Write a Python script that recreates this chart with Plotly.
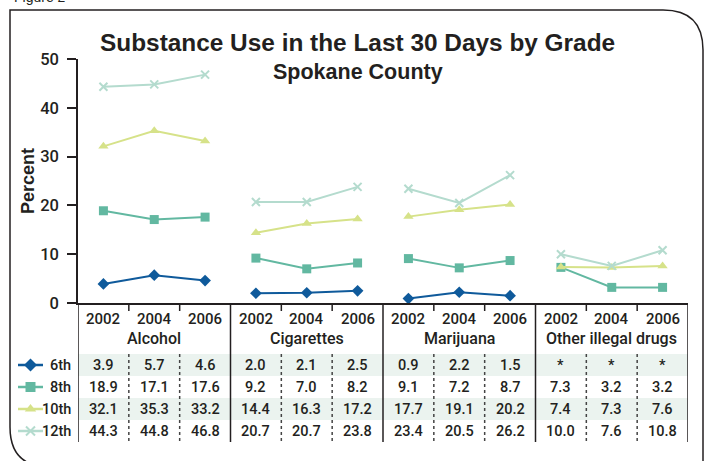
import plotly.graph_objects as go

W, H = 709, 461

SUBSTANCES = ["Alcohol", "Cigarettes", "Marijuana", "Other illegal drugs"]
YEARS = ["2002", "2004", "2006"]
GRADES = ["6th", "8th", "10th", "12th"]
Y_TICKS = [0, 10, 20, 30, 40, 50]

# Percent reporting use in the last 30 days.
# Order: Alcohol, Cigarettes, Marijuana, Other illegal drugs; each 2002, 2004, 2006.
grade6 = [3.9, 5.7, 4.6, 2.0, 2.1, 2.5, 0.9, 2.2, 1.5, None, None, None]
grade8 = [18.9, 17.1, 17.6, 9.2, 7.0, 8.2, 9.1, 7.2, 8.7, 7.3, 3.2, 3.2]
grade10 = [32.1, 35.3, 33.2, 14.4, 16.3, 17.2, 17.7, 19.1, 20.2, 7.4, 7.3, 7.6]
grade12 = [44.3, 44.8, 46.8, 20.7, 20.7, 23.8, 23.4, 20.5, 26.2, 10.0, 7.6, 10.8]
SERIES = [grade6, grade8, grade10, grade12]

# ---- styling -------------------------------------------------------------
COLORS = ["#0f5a9b", "#62b8a1", "#d6e289", "#b4dbce"]
SYMBOLS = ["diamond", "square", "triangle-up", "x-thin"]
SIZES = [9, 9, 9, 8]
INK = "#231f20"
BAND = "#ebf3ef"
SANS = "Liberation Sans, Arial, sans-serif"
BODY = "Roboto, Liberation Sans, Arial, sans-serif"

# layout geometry in pixels
PLOT_L, PLOT_R, PLOT_T, PLOT_B = 78, 688, 59, 303
TABLE_T, TABLE_B = 354, 442
LEGEND_W = 78


def px(xp):
    return xp / W


def py(yp):
    return 1 - yp / H


def note(text, x, y, xref="paper", yref="paper", size=15, xanchor="center",
         yanchor="middle", family=BODY, weight=500, **kw):
    return dict(text=text, x=x, y=y, xref=xref, yref=yref, showarrow=False,
                xanchor=xanchor, yanchor=yanchor,
                font=dict(family=family, size=size, color=INK, weight=weight), **kw)


n_groups, n_years = len(SUBSTANCES), len(YEARS)
n_cols = n_groups * n_years

fig = go.Figure()

# ---- lines per grade, broken between substance groups ---------------------
for gi, (grade, vals) in enumerate(zip(GRADES, SERIES)):
    xs, ys = [], []
    for g in range(n_groups):
        for j in range(n_years):
            xs.append(g * n_years + j)
            ys.append(vals[g * n_years + j])
        xs.append(None)
        ys.append(None)
    mk = dict(symbol=SYMBOLS[gi], size=SIZES[gi], color=COLORS[gi])
    if SYMBOLS[gi] == "x-thin":
        mk["line"] = dict(width=2, color=COLORS[gi])
    fig.add_trace(go.Scatter(
        x=xs, y=ys, mode="lines+markers", name=grade,
        line=dict(color=COLORS[gi], width=2),
        marker=mk, connectgaps=False, showlegend=False,
        xaxis="x", yaxis="y",
    ))

# ---- legend swatches in the table's left column ----------------------------
for gi, grade in enumerate(GRADES):
    fig.add_trace(go.Scatter(
        x=[18, 43], y=[gi, gi], mode="lines",
        line=dict(color=COLORS[gi], width=2.5),
        showlegend=False, hoverinfo="skip", xaxis="x2", yaxis="y2",
    ))
    mk = dict(symbol=SYMBOLS[gi], size=SIZES[gi] + 1, color=COLORS[gi])
    if SYMBOLS[gi] == "x-thin":
        mk["line"] = dict(width=2, color=COLORS[gi])
    fig.add_trace(go.Scatter(
        x=[30.5], y=[gi], mode="markers", marker=mk,
        showlegend=False, hoverinfo="skip", xaxis="x2", yaxis="y2",
    ))

shapes = []
annotations = []

# shaded table rows (6th and 10th)
for r in (0, 2):
    shapes.append(dict(type="rect", xref="x", yref="y2",
                       x0=-0.5, x1=n_cols - 0.5, y0=r - 0.5, y1=r + 0.5,
                       fillcolor=BAND, line=dict(width=0), layer="below"))

# y-axis continued down through the table, and group separators
for xv in [-0.5] + [g * n_years + n_years - 0.5 for g in range(n_groups)]:
    shapes.append(dict(type="line", xref="x", yref="paper",
                       x0=xv, x1=xv, y0=py(PLOT_B), y1=py(TABLE_B),
                       line=dict(color=INK, width=1.5)))

# small ticks under the axis and dotted column rules in the table
for g in range(n_groups):
    for j in range(n_years - 1):
        xv = g * n_years + j + 0.5
        shapes.append(dict(type="line", xref="x", yref="paper",
                           x0=xv, x1=xv, y0=py(PLOT_B), y1=py(PLOT_B + 8),
                           line=dict(color=INK, width=1.5)))
        shapes.append(dict(type="line", xref="x", yref="paper",
                           x0=xv, x1=xv, y0=py(TABLE_T), y1=py(TABLE_B),
                           line=dict(color="#444444", width=1.5, dash="dot")))

# outer frame with rounded corners
frame = (
    f"M {px(703)},{py(480)} L {px(703)},{py(50)} "
    f"Q {px(703)},{py(10)} {px(663)},{py(10)} "
    f"L {px(10)},{py(10)} L {px(10)},{py(427)} "
    f"Q {px(10)},{py(467)} {px(50)},{py(467)} L {px(703)},{py(467)}"
)
shapes.append(dict(type="path", xref="paper", yref="paper", path=frame,
                   line=dict(color=INK, width=1.5)))

# year labels and substance names under the axis
for g, sub in enumerate(SUBSTANCES):
    for j, yr in enumerate(YEARS):
        annotations.append(note(yr, g * n_years + j, py(319), xref="x", size=15))
    annotations.append(note(sub, g * n_years + 1, py(338), xref="x", size=16))

# table values with grade labels
for gi, vals in enumerate(SERIES):
    annotations.append(note(GRADES[gi], 73, gi, xref="x2", yref="y2",
                            xanchor="right", size=14.5))
    for c, v in enumerate(vals):
        annotations.append(note("*" if v is None else f"{v:.1f}", c, gi,
                                xref="x", yref="y2", size=14.5))

# titles
annotations += [
    note("<b>Substance Use in the Last 30 Days by Grade</b>", px(357), py(42),
         size=24.4, family=SANS, weight="bold"),
    note("<b>Spokane County</b>", px(358), py(72), size=21.5, family=SANS,
         weight="bold"),
    note("<b>Percent</b>", px(28), py((PLOT_T + PLOT_B) / 2), size=18,
         family=SANS, weight="bold", textangle=-90),
    note("Figure 2", px(12), py(-3), xanchor="left", size=14, family=SANS,
         weight="normal"),
]

fig.update_layout(
    width=W, height=H,
    margin=dict(l=0, r=0, t=0, b=0, pad=0, autoexpand=False),
    paper_bgcolor="white", plot_bgcolor="white",
    shapes=shapes, annotations=annotations,
    xaxis=dict(domain=[px(PLOT_L), px(PLOT_R)], range=[-0.5, n_cols - 0.5],
               showline=True, linecolor=INK, linewidth=1.5,
               showticklabels=False, ticks="", showgrid=False, zeroline=False,
               anchor="y", automargin=False),
    yaxis=dict(domain=[py(PLOT_B), py(PLOT_T)], range=[0, 50],
               tickvals=Y_TICKS, ticks="outside", ticklen=9, tickwidth=1.5,
               tickcolor=INK, showline=True, linecolor=INK, linewidth=1.5,
               showgrid=False, zeroline=False, ticklabelstandoff=5,
               tickfont=dict(family=BODY, size=16.5, color=INK, weight=500),
               anchor="x", automargin=False),
    xaxis2=dict(domain=[0, px(LEGEND_W)], range=[0, LEGEND_W], visible=False,
                anchor="y2", automargin=False),
    yaxis2=dict(domain=[py(TABLE_B), py(TABLE_T)], range=[3.5, -0.5],
                visible=False, anchor="x2", automargin=False),
)

fig.write_html("out.html")
